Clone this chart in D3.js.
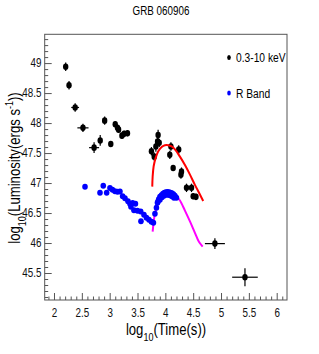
<!DOCTYPE html>
<html>
<head>
<meta charset="utf-8">
<script src="https://cdn.jsdelivr.net/npm/d3@7"></script>
<style>
  body { margin: 0; background: #fff; }
  text { font-family: "Liberation Sans", Arial, sans-serif; }
</style>
</head>
<body>
<div id="chart"></div>
<script>
const width = 319;
const height = 354;

// X-ray (0.3-10 keV) points
const xrayT = [2.21, 2.27, 2.38, 2.52, 2.72, 2.83, 2.91, 3.02, 3.10, 3.14, 3.16, 3.22, 3.26, 3.32,
    3.75, 3.80, 3.83, 3.86, 3.87, 3.89, 4.08, 4.10, 4.24, 4.14, 4.28, 4.29, 4.38, 4.47, 4.50, 4.55, 4.89, 5.43];
const xrayL = [48.94, 48.63, 48.26, 47.92, 47.59, 47.71, 48.04, 47.65, 47.98, 47.92, 47.89, 47.79, 47.82, 47.83,
    47.53, 47.44, 47.61, 47.69, 47.80, 47.67, 47.47, 47.61, 47.56, 47.25, 47.14, 47.19, 46.92, 46.92, 46.78, 46.77, 45.99, 45.43];
const xrayTErr = [0, 0, 0.07, 0.10, 0.09, 0, 0, 0, 0, 0, 0, 0, 0, 0,
    0, 0, 0, 0, 0, 0, 0, 0, 0, 0, 0, 0, 0, 0, 0, 0, 0.18, 0.23];
const xrayLErr = [0.07, 0.07, 0.07, 0.07, 0.09, 0.09, 0.07, 0.05, 0.05, 0.05, 0.05, 0.05, 0.05, 0.05,
    0.07, 0.07, 0.09, 0.09, 0.09, 0.07, 0.07, 0.07, 0.07, 0.05, 0.07, 0.07, 0.07, 0.07, 0.05, 0.05, 0.09, 0.15];

// R band points
const rT = [2.557, 2.826, 2.885, 2.946, 3.005, 3.050, 3.095, 3.140, 3.185, 3.233, 3.275, 3.329, 3.364, 3.413, 3.463,
    3.382, 3.436, 3.499, 3.557, 3.562, 3.616, 3.661, 3.706, 3.750, 3.786, 3.813, 3.840, 3.858, 3.881, 3.903,
    3.930, 3.957, 3.984, 4.011, 4.038, 4.065, 4.092, 4.118, 4.145, 4.172, 4.199,
    3.867, 3.903, 3.939, 3.975, 4.011, 4.047, 4.083, 4.118, 4.154];
const rL = [46.938, 46.838, 46.955, 46.838, 46.917, 46.888, 46.863, 46.855, 46.860, 46.780, 46.747, 46.697, 46.655, 46.667, 46.655,
    46.605, 46.547, 46.538, 46.527, 46.363, 46.472, 46.422, 46.388, 46.355, 46.338, 46.488, 46.588, 46.672, 46.730, 46.772,
    46.797, 46.822, 46.838, 46.847, 46.850, 46.847, 46.838, 46.830, 46.813, 46.788, 46.755,
    46.688, 46.722, 46.763, 46.788, 46.805, 46.805, 46.797, 46.780, 46.755];

// fitted curves
const redT = [3.765, 3.772, 3.790, 3.826, 3.873, 3.934, 3.993, 4.052, 4.113, 4.172, 4.262, 4.352, 4.442, 4.531, 4.621, 4.680];
const redL = [46.94, 47.11, 47.28, 47.42, 47.53, 47.60, 47.63, 47.63, 47.61, 47.56, 47.44, 47.30, 47.14, 46.97, 46.81, 46.70];
const magT = [3.772, 3.790, 3.813, 3.849, 3.903, 3.975, 4.047, 4.118, 4.190, 4.262, 4.352, 4.442, 4.531, 4.603, 4.670];
const magL = [46.19, 46.35, 46.49, 46.61, 46.72, 46.81, 46.86, 46.84, 46.79, 46.71, 46.54, 46.36, 46.17, 46.02, 45.94];

const xTicks = [2, 2.5, 3, 3.5, 4, 4.5, 5, 5.5, 6];
const yTicks = [45.5, 46, 46.5, 47, 47.5, 48, 48.5, 49];

const svg = d3.select("#chart").append("svg")
    .attr("width", width)
    .attr("height", height);

const x = d3.scaleLinear().domain([1.833, 6.185]).range([44.7, 287]);
const y = d3.scaleLinear().domain([45.05, 49.48]).range([300, 34.3]);

const frameColor = "#555";
const narrow = "scale(0.82,1)";

// minor ticks every 0.1
const xMinor = d3.range(19, 62).map(d => d / 10).filter(d => !xTicks.includes(d));
const yMinor = d3.range(451, 495).map(d => d / 10).filter(d => !yTicks.includes(d));

svg.append("g")
    .attr("transform", "translate(0,300)")
    .call(d3.axisBottom(x).tickValues(xMinor).tickSizeInner(-3.5).tickSizeOuter(0).tickFormat(""))
    .call(g => g.select(".domain").remove())
    .selectAll("line").attr("stroke", frameColor);

svg.append("g")
    .attr("class", "axis")
    .attr("transform", "translate(0,300)")
    .call(d3.axisBottom(x).tickValues(xTicks).tickSizeInner(-7).tickSizeOuter(0).tickPadding(8)
        .tickFormat(d3.format("")))
    .call(g => g.select(".domain").remove())
    .call(g => g.selectAll("line").attr("stroke", frameColor))
    .call(g => g.selectAll("text").attr("font-size", 12).attr("fill", "#111").attr("transform", narrow));

svg.append("g")
    .attr("transform", "translate(44.7,0)")
    .call(d3.axisLeft(y).tickValues(yMinor).tickSizeInner(-3.5).tickSizeOuter(0).tickFormat(""))
    .call(g => g.select(".domain").remove())
    .selectAll("line").attr("stroke", frameColor);

svg.append("g")
    .attr("class", "axis")
    .attr("transform", "translate(44.7,0)")
    .call(d3.axisLeft(y).tickValues(yTicks).tickSizeInner(-7).tickSizeOuter(0).tickPadding(4)
        .tickFormat(d3.format("")))
    .call(g => g.select(".domain").remove())
    .call(g => g.selectAll("line").attr("stroke", frameColor))
    .call(g => g.selectAll("text").attr("font-size", 12).attr("fill", "#111").attr("transform", narrow));

// frame
svg.append("rect")
    .attr("x", 44.7).attr("y", 34.3)
    .attr("width", 287 - 44.7).attr("height", 300 - 34.3)
    .attr("fill", "none")
    .attr("stroke", frameColor)
    .attr("stroke-width", 1);

// curves
const line = d3.line()
    .x(d => x(d[0]))
    .y(d => y(d[1]))
    .curve(d3.curveCatmullRom);

svg.append("path")
    .attr("d", line(magT.map((t, i) => [t, magL[i]])))
    .attr("fill", "none").attr("stroke", "#ff00ff").attr("stroke-width", 2);

// R band
svg.append("g")
    .selectAll("ellipse")
    .data(rT.map((t, i) => [t, rL[i]]))
    .enter()
    .append("ellipse")
    .attr("cx", d => x(d[0]))
    .attr("cy", d => y(d[1]))
    .attr("rx", 2.8).attr("ry", 3)
    .attr("fill", "#0000ff");

// X-ray error bars and points
const xray = xrayT.map((t, i) => ({ t: t, l: xrayL[i], te: xrayTErr[i], le: xrayLErr[i] }));
const xg = svg.append("g");
xg.selectAll("line.ey")
    .data(xray)
    .enter()
    .append("line")
    .attr("x1", d => x(d.t)).attr("x2", d => x(d.t))
    .attr("y1", d => y(d.l + d.le)).attr("y2", d => y(d.l - d.le))
    .attr("stroke", "#000").attr("stroke-width", 1.2);
xg.selectAll("line.ex")
    .data(xray.filter(d => d.te > 0))
    .enter()
    .append("line")
    .attr("x1", d => x(d.t - d.te)).attr("x2", d => x(d.t + d.te))
    .attr("y1", d => y(d.l)).attr("y2", d => y(d.l))
    .attr("stroke", "#000").attr("stroke-width", 1.2);
xg.selectAll("ellipse")
    .data(xray)
    .enter()
    .append("ellipse")
    .attr("cx", d => x(d.t))
    .attr("cy", d => y(d.l))
    .attr("rx", 2.7).attr("ry", 3.3)
    .attr("fill", "#000");

svg.append("path")
    .attr("d", line(redT.map((t, i) => [t, redL[i]])))
    .attr("fill", "none").attr("stroke", "#ff0000").attr("stroke-width", 2);

// legend
svg.append("ellipse").attr("cx", 229).attr("cy", 57.5).attr("rx", 1.8).attr("ry", 2.5).attr("fill", "#000");
svg.append("text").attr("transform", "translate(236,62) " + narrow).attr("font-size", 12.5).text("0.3-10 keV");
svg.append("ellipse").attr("cx", 229).attr("cy", 93).attr("rx", 1.8).attr("ry", 2.5).attr("fill", "#0000ff");
svg.append("text").attr("transform", "translate(236,97.5) " + narrow).attr("font-size", 12.5).text("R Band");

// title
svg.append("text")
    .attr("transform", "translate(161,15) " + narrow)
    .attr("text-anchor", "middle")
    .attr("font-size", 12)
    .text("GRB 060906");

// axis titles
const xt = svg.append("text")
    .attr("transform", "translate(166,335) " + narrow)
    .attr("text-anchor", "middle")
    .attr("font-size", 16);
xt.append("tspan").text("log");
xt.append("tspan").attr("font-size", 11).attr("dy", 6).text("10");
xt.append("tspan").attr("dy", -6).text("(Time(s))");

const yt = svg.append("text")
    .attr("transform", "translate(20,168) rotate(-90) " + narrow)
    .attr("text-anchor", "middle")
    .attr("font-size", 16);
yt.append("tspan").text("log");
yt.append("tspan").attr("font-size", 11).attr("dy", 6).text("10");
yt.append("tspan").attr("dy", -6).text("(Luminosity(ergs s");
yt.append("tspan").attr("font-size", 11).attr("dy", -7).text("-1");
yt.append("tspan").attr("dy", 7).text("))");
</script>
</body>
</html>
